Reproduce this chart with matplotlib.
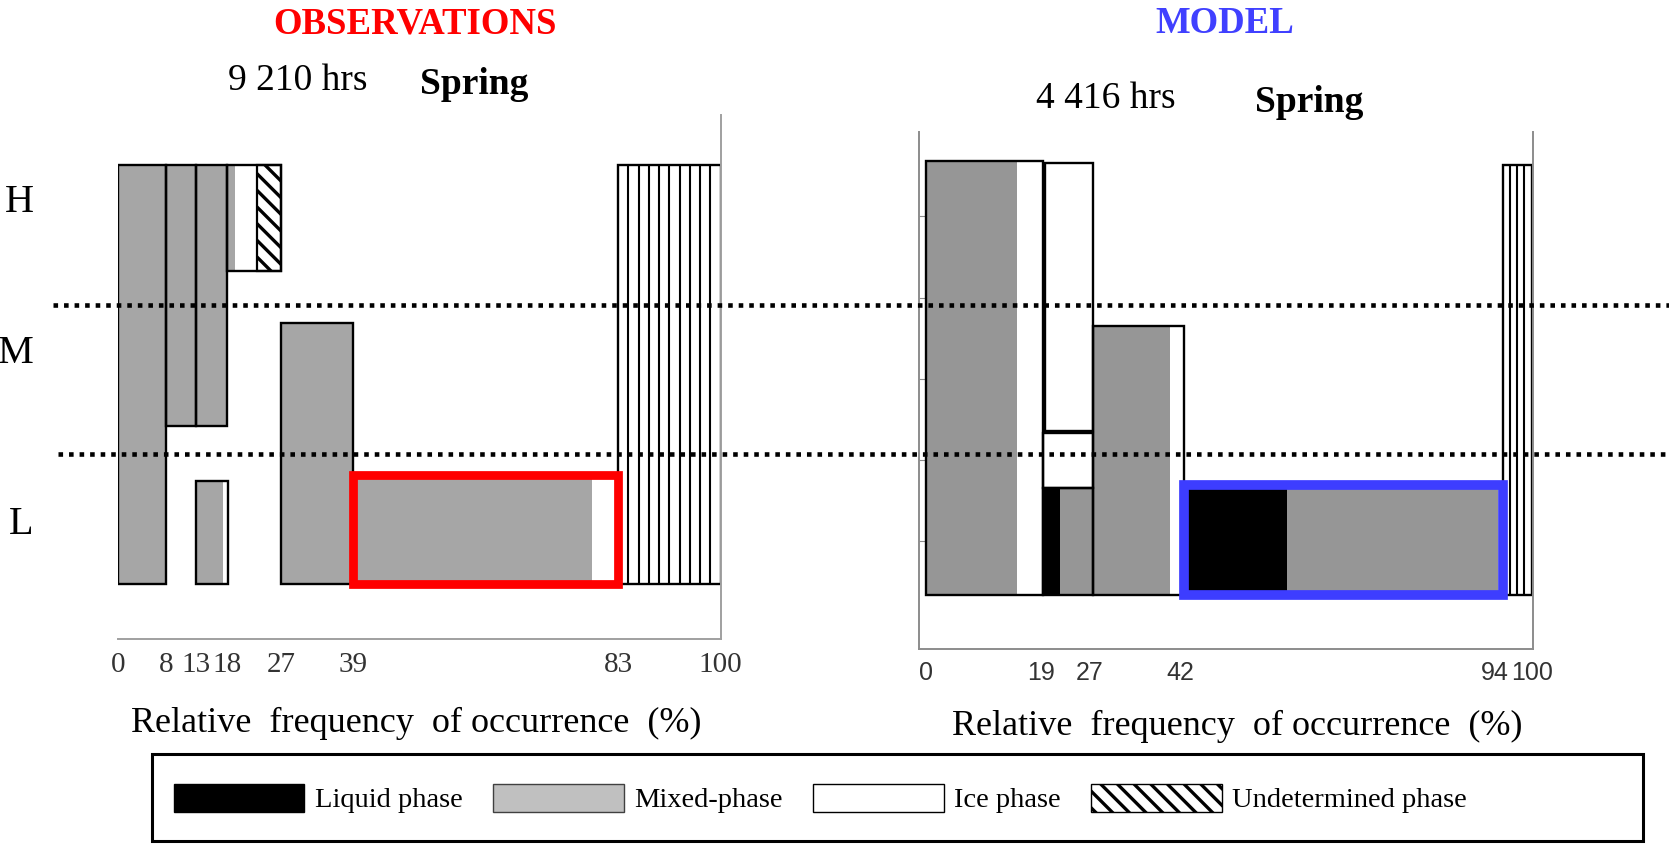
import matplotlib
matplotlib.use("Agg")
import numpy as np
import matplotlib.pyplot as plt
from matplotlib.patches import Rectangle, Patch
from matplotlib.lines import Line2D
from matplotlib.transforms import blended_transform_factory

plt.rcParams['font.family'] = ['Liberation Serif', 'DejaVu Serif']
plt.rcParams['hatch.linewidth'] = 2.4

# ---- data ---------------------------------------------------------------
# heights are in layer units: 0 = base of the low level, 3 = top of the high level
level_bounds = [0.93, 2.0]          # L/M and M/H separators (dotted lines)
level_names = ['H', 'M', 'L']

# observations: one entry per cloud column, split into phases (phase, % occurrence)
obs_x0 = [0, 8, 13, 18, 13, 27, 39, 83]
obs_y0 = [0, 1.13, 1.13, 2.24, 0, 0, 0, 0]
obs_y1 = [3, 3, 3, 3, 0.74, 1.87, 0.78, 3]
obs_phases = [
    [('mixed', 8)],
    [('mixed', 5)],
    [('mixed', 5)],
    [('mixed', 1.4), ('ice', 3.7), ('undetermined', 3.9)],
    [('mixed', 4.4), ('ice', 0.9)],
    [('mixed', 12)],
    [('mixed', 39.6), ('ice', 4.4)],
    [('clear', 17)],
]
obs_ticks = [0, 8, 13, 18, 27, 39, 83, 100]
obs_hours = '9 210 hrs'
obs_highlight = 6

# model
model_x0 = [0, 19.6, 19.2, 19.2, 27.6, 42.5, 95.3]
model_y0 = [0, 1.13, 0.74, 0, 0, 0, 0]
model_y1 = [3, 2.985, 1.12, 0.74, 1.86, 0.76, 2.97]
model_phases = [
    [('mixed', 15.0), ('ice', 4.2)],
    [('ice', 8.0)],
    [('ice', 8.4)],
    [('liquid', 2.8), ('mixed', 5.6)],
    [('mixed', 12.7), ('ice', 2.2)],
    [('liquid', 17.0), ('mixed', 35.0), ('ice', 0.8)],
    [('clear', 4.7)],
]
model_ticks = [0, 19, 27, 42, 94, 100]
model_yticks = [0.375, 0.93, 1.49, 2.05, 2.62]
model_hours = '4 416 hrs'
model_highlight = 5

season = 'Spring'
legend_labels = ['Liquid phase', 'Mixed-phase', 'Ice phase', 'Undetermined phase']

# ---- drawing ------------------------------------------------------------
W, H = 1669, 844
fig = plt.figure(figsize=(W / 100, H / 100), dpi=100)


def fx(x):
    return x / W


def fy(y):
    return 1 - y / H


def draw_columns(ax, x0s, y0s, y1s, phases, mixed_color, stripe_step):
    colors = {'liquid': 'black', 'mixed': mixed_color, 'ice': 'white'}
    for x0, y0, y1, segs in zip(x0s, y0s, y1s, phases):
        x = x0
        for phase, w in segs:
            if phase == 'undetermined':
                ax.add_patch(Rectangle((x, y0), w, y1 - y0, facecolor='white',
                                       edgecolor='black', hatch='\\\\', lw=1.6, zorder=1))
            elif phase == 'clear':
                ax.add_patch(Rectangle((x, y0), w, y1 - y0, facecolor='white',
                                       edgecolor='none', zorder=1))
                n = int(round(w / stripe_step))
                ax.vlines(np.linspace(x, x + w, n + 1)[1:-1], y0, y1,
                          color='black', lw=1.5, zorder=1.5)
            else:
                ax.add_patch(Rectangle((x, y0), w, y1 - y0, facecolor=colors[phase],
                                       edgecolor='none', zorder=1))
            x += w
        ax.add_patch(Rectangle((x0, y0), x - x0, y1 - y0, facecolor='none',
                               edgecolor='black', lw=1.7, zorder=2))


def highlight(ax, i, x0s, y0s, y1s, phases, color, lw):
    w = sum(p[1] for p in phases[i])
    ax.add_patch(Rectangle((x0s[i], y0s[i]), w, y1s[i] - y0s[i], facecolor='none',
                           edgecolor=color, lw=lw, zorder=5, clip_on=False))


# observations panel
axL = fig.add_axes([0.0708, 0.2434, 0.3610, 0.6203])
axL.set_facecolor('none')
axL.set_xlim(0, 100)
axL.set_ylim(-0.388, 3.358)
draw_columns(axL, obs_x0, obs_y0, obs_y1, obs_phases, '#a6a6a6', 1.7)
highlight(axL, obs_highlight, obs_x0, obs_y0, obs_y1, obs_phases, '#ff0000', 6.3)
for s in ['left', 'top']:
    axL.spines[s].set_visible(False)
for s in ['right', 'bottom']:
    axL.spines[s].set_color('#a0a0a0')
    axL.spines[s].set_linewidth(1.4)
axL.set_yticks([])
axL.set_xticks(obs_ticks)
axL.tick_params(axis='x', length=0, pad=10, labelsize=21, labelcolor='#333333')
axL.text(0.495, -0.162, 'Relative  frequency  of occurrence  (%)', transform=axL.transAxes,
         ha='center', va='center', fontsize=26)

# model panel
axR = fig.add_axes([0.5504, 0.2312, 0.3680, 0.6126])
axR.set_facecolor('none')
axR.set_xlim(-1.3, 100.2)
axR.set_ylim(-0.372, 3.2)
draw_columns(axR, model_x0, model_y0, model_y1, model_phases, '#969696', 1.2)
highlight(axR, model_highlight, model_x0, model_y0, model_y1, model_phases, '#3d3dff', 7)
axR.spines['top'].set_visible(False)
for s in ['left', 'right', 'bottom']:
    axR.spines[s].set_color('#8c8c8c')
    axR.spines[s].set_linewidth(1.4)
axR.set_yticks(model_yticks)
axR.tick_params(axis='y', direction='in', length=5, color='#8c8c8c', labelleft=False)
axR.set_xticks(model_ticks)
axR.tick_params(axis='x', length=0, pad=9, labelsize=18, labelcolor='#333333')
for lab in axR.get_xticklabels():
    lab.set_family('Liberation Sans')
axR.text(0.518, -0.151, 'Relative  frequency  of occurrence  (%)', transform=axR.transAxes,
         ha='center', va='center', fontsize=26)

# dotted level separators across the whole figure
trans = blended_transform_factory(fig.transFigure, axL.transData)
for yb, xs in zip(level_bounds, [fx(58), fx(53)]):
    fig.add_artist(Line2D([xs, 1.0], [yb, yb], transform=trans, color='black',
                          lw=3.3, ls=(0, (1.0, 1.3)), zorder=3))

# titles and labels
fig.text(fx(415), fy(33), 'OBSERVATIONS', color='#ff0000', fontsize=26.5,
         fontweight='bold', ha='center', va='baseline')
fig.text(fx(1225), fy(33), 'MODEL', color='#4040ff', fontsize=26.5,
         fontweight='bold', ha='center', va='baseline')
fig.text(fx(298), fy(90.5), obs_hours, fontsize=27, ha='center', va='baseline')
fig.text(fx(474), fy(94.5), season, fontsize=27, fontweight='bold', ha='center', va='baseline')
fig.text(fx(1106), fy(107.5), model_hours, fontsize=27, ha='center', va='baseline')
fig.text(fx(1309), fy(112.5), season, fontsize=27, fontweight='bold', ha='center', va='baseline')
for name, (x, y) in zip(level_names, [(19, 203), (16, 354), (21, 524)]):
    fig.text(fx(x), fy(y), name, fontsize=29, ha='center', va='center')

# legend
fig.add_artist(Rectangle((fx(152), fy(841)), fx(1642.5) - fx(152), fy(753.6) - fy(841),
                         transform=fig.transFigure, facecolor='none', edgecolor='black', lw=2.2))
handles = [
    Patch(facecolor='black', edgecolor='black'),
    Patch(facecolor='#c0c0c0', edgecolor='#404040'),
    Patch(facecolor='white', edgecolor='black'),
    Patch(facecolor='white', edgecolor='black', hatch='\\\\'),
]
fig.legend(handles, legend_labels, loc='center left', bbox_to_anchor=(fx(173.5), fy(798.5)),
           ncol=4, frameon=False, fontsize=20.5, handlelength=4.6, handleheight=1.16,
           handletextpad=0.37, columnspacing=1.05, borderpad=0, borderaxespad=0)

fig.savefig('out.png', dpi=100)
